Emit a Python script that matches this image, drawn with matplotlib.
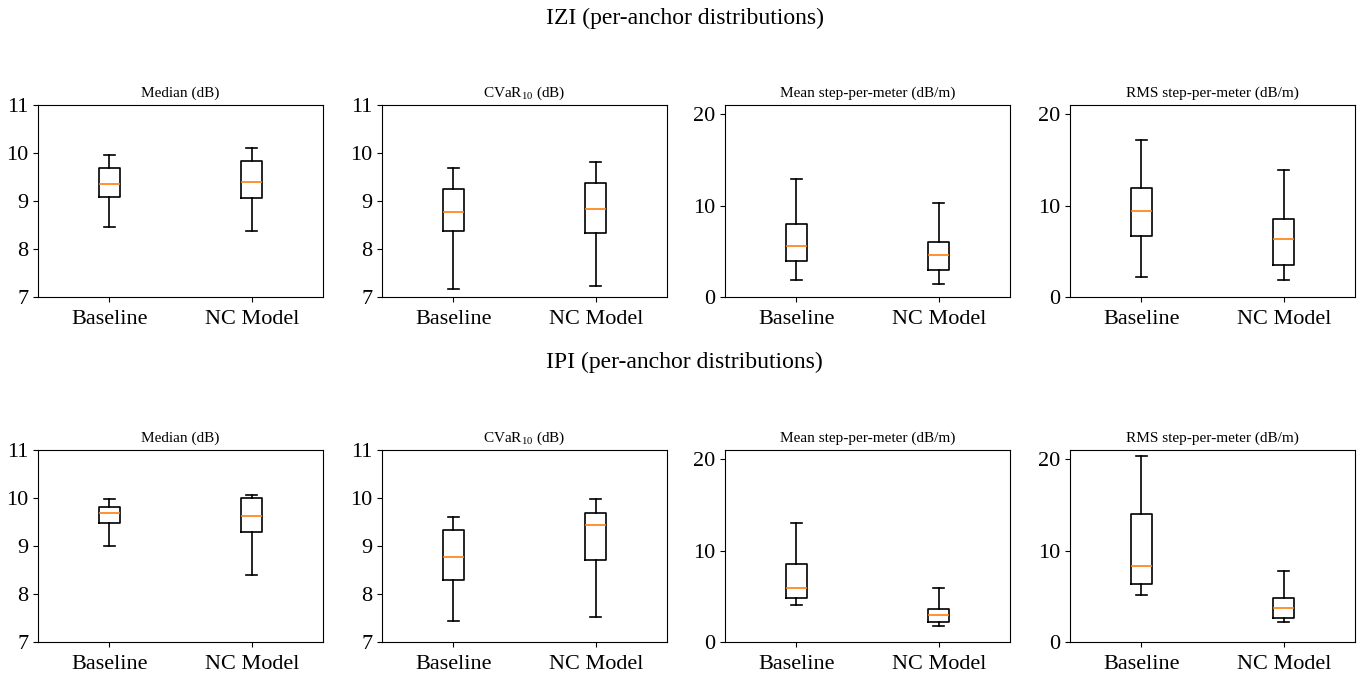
import matplotlib
matplotlib.use("Agg")
import matplotlib.pyplot as plt

plt.rcParams['font.family'] = 'serif'
plt.rcParams['font.serif'] = ['Liberation Serif', 'DejaVu Serif']
plt.rcParams['mathtext.fontset'] = 'custom'
plt.rcParams['mathtext.rm'] = 'Liberation Serif'
plt.rcParams['mathtext.it'] = 'Liberation Serif:italic'

models = ['Baseline', 'NC Model']
metrics = ['Median (dB)', 'CVaR$_{10}$ (dB)',
           'Mean step-per-meter (dB/m)', 'RMS step-per-meter (dB/m)']
row_titles = ['IZI (per-anchor distributions)', 'IPI (per-anchor distributions)']

# five-number summaries per model: [whislo, q1, med, q3, whishi]
izi_median = [[8.46, 9.08, 9.35, 9.68, 9.96], [8.37, 9.07, 9.40, 9.84, 10.11]]
izi_cvar = [[7.16, 8.38, 8.77, 9.25, 9.68], [7.23, 8.33, 8.84, 9.37, 9.81]]
izi_mean_step = [[1.83, 3.99, 5.63, 8.01, 12.87], [1.39, 2.93, 4.61, 6.03, 10.31]]
izi_rms_step = [[2.23, 6.65, 9.40, 11.88, 17.22], [1.83, 3.55, 6.29, 8.56, 13.93]]

ipi_median = [[8.99, 9.47, 9.69, 9.81, 9.97], [8.40, 9.30, 9.63, 10.00, 10.06]]
ipi_cvar = [[7.44, 8.29, 8.77, 9.34, 9.60], [7.53, 8.70, 9.43, 9.69, 9.97]]
ipi_mean_step = [[4.01, 4.81, 5.94, 8.56, 13.04], [1.75, 2.15, 2.95, 3.64, 5.87]]
ipi_rms_step = [[5.17, 6.30, 8.31, 13.95, 20.29], [2.19, 2.66, 3.72, 4.77, 7.76]]

rows = [
    [izi_median, izi_cvar, izi_mean_step, izi_rms_step],
    [ipi_median, ipi_cvar, ipi_mean_step, ipi_rms_step],
]
ylims = [(7, 11), (7, 11), (0, 21), (0, 21)]
yticks = [[7, 8, 9, 10, 11], [7, 8, 9, 10, 11], [0, 10, 20], [0, 10, 20]]


def to_stats(summary, label):
    lo, q1, med, q3, hi = summary
    return dict(whislo=lo, q1=q1, med=med, q3=q3, whishi=hi, fliers=[], label=label)


W, H = 1369, 675
fig = plt.figure(figsize=(W / 100, H / 100), dpi=100)

lefts = [38, 382, 725, 1070]
ax_w = 285
tops = [105, 450]
ax_h = 192
suptitle_y = [18, 362]

for r, row in enumerate(rows):
    fig.text(0.5, 1 - suptitle_y[r] / H, row_titles[r], ha='center', va='center', fontsize=17)
    for c, data in enumerate(row):
        ax = fig.add_axes([lefts[c] / W, 1 - (tops[r] + ax_h) / H, ax_w / W, ax_h / H])
        stats = [to_stats(s, m) for s, m in zip(data, models)]
        ax.bxp(stats, showfliers=False,
               boxprops=dict(color='black', linewidth=1.2),
               whiskerprops=dict(color='black', linewidth=1.2),
               capprops=dict(color='black', linewidth=1.2),
               medianprops=dict(color='#ff7f0e', linewidth=1.2))
        ax.set_ylim(*ylims[c])
        ax.set_yticks(yticks[c])
        ax.tick_params(labelsize=16)
        ax.tick_params(axis='x', pad=6)
        ax.set_title(metrics[c], fontsize=11, pad=6)

fig.savefig('out.png', dpi=100)
